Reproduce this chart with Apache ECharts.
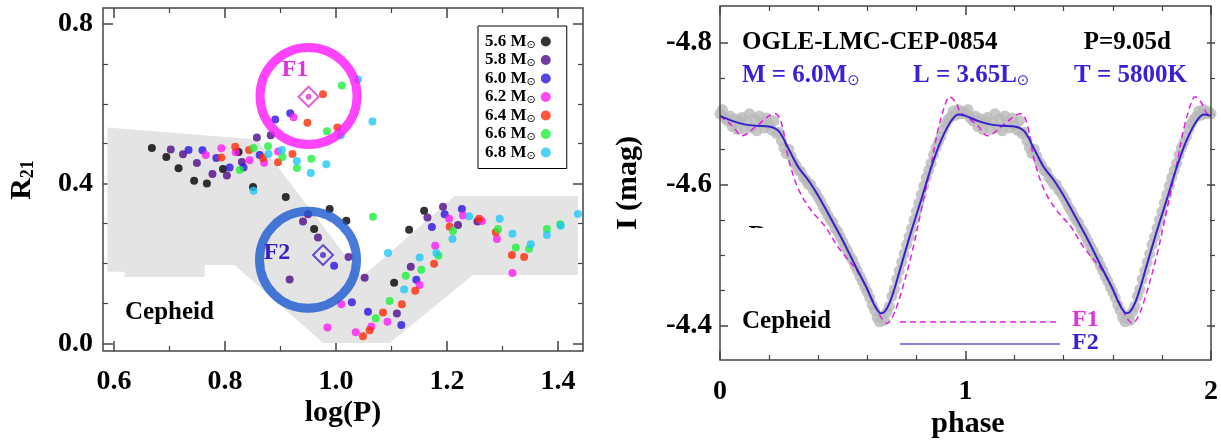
<!DOCTYPE html>
<html><head><meta charset="utf-8">
<script src="https://cdn.jsdelivr.net/npm/echarts@6/dist/echarts.min.js"></script>
<style>html,body{margin:0;padding:0;background:#fff}#c{width:1221px;height:441px}</style>
</head><body><div id="c"></div>
<script>
// ---------- Left panel: R21 vs log(P) ----------
const massNames = ['5.6', '5.8', '6.0', '6.2', '6.4', '6.6', '6.8'];
const massColors = ['#000000', '#4d0a8a', '#2a14e0', '#ff1cf5', '#ff2a0a', '#1ef03c', '#1ec8f8'];
const m56 = [[0.669,0.489],[0.695,0.466],[0.717,0.438],[0.745,0.407],[0.768,0.400],[0.797,0.436],[0.825,0.479],[0.851,0.391],[0.910,0.366],[0.989,0.336],[1.019,0.307],[0.961,0.286],[1.105,0.152],[1.132,0.284],[1.159,0.332]];
const m58 = [[0.703,0.485],[0.725,0.473],[0.750,0.451],[0.778,0.424],[0.804,0.420],[0.831,0.454],[0.858,0.515],[0.883,0.521],[0.950,0.323],[0.941,0.305],[0.968,0.265],[1.023,0.216],[0.917,0.160],[1.052,0.164],[1.110,0.075],[1.135,0.192],[1.165,0.315],[1.193,0.342],[1.220,0.296],[1.255,0.305]];
const m60 = [[0.735,0.484],[0.760,0.483],[0.785,0.464],[0.809,0.440],[0.834,0.440],[0.863,0.471],[0.891,0.560],[0.918,0.576],[0.997,0.194],[1.029,0.103],[1.058,0.079],[1.118,0.046],[1.145,0.159],[1.173,0.291],[1.196,0.323],[1.227,0.336]];
const m62 = [[0.766,0.471],[0.794,0.488],[0.820,0.478],[0.845,0.458],[0.871,0.452],[0.896,0.480],[0.924,0.566],[1.010,0.098],[0.985,0.040],[1.036,0.028],[1.064,0.042],[1.093,0.054],[1.151,0.146],[1.179,0.244],[1.204,0.312],[1.229,0.320],[1.263,0.306],[1.290,0.261],[1.318,0.176]];
const m64 = [[0.794,0.465],[0.819,0.492],[0.844,0.484],[0.869,0.464],[0.896,0.453],[0.922,0.474],[0.949,0.552],[0.977,0.623],[1.003,0.540],[1.049,0.018],[1.061,0.033],[1.085,0.077],[1.119,0.098],[1.143,0.132],[1.177,0.199],[1.205,0.292],[1.258,0.312],[1.288,0.278],[1.317,0.221],[1.339,0.216]];
const m66 = [[0.827,0.434],[0.852,0.489],[0.878,0.493],[0.904,0.466],[0.930,0.439],[0.956,0.462],[0.984,0.531],[1.011,0.645],[1.067,0.317],[1.072,0.063],[1.097,0.106],[1.126,0.169],[1.154,0.184],[1.185,0.219],[1.211,0.281],[1.292,0.286],[1.324,0.240],[1.348,0.237],[1.380,0.286],[1.404,0.298]];
const m68 = [[0.852,0.382],[0.879,0.474],[0.903,0.484],[0.930,0.456],[0.955,0.426],[0.983,0.448],[1.009,0.520],[1.066,0.555],[1.040,0.660],[1.094,0.226],[1.123,0.135],[1.151,0.215],[1.181,0.226],[1.210,0.261],[1.240,0.318],[1.295,0.312],[1.318,0.274],[1.351,0.248],[1.380,0.271],[1.405,0.294],[1.436,0.324]];
const massData = [m56, m58, m60, m62, m64, m66, m68];
// Cepheid instability region outline (logP, R21)
const cepRegion = [[0.589,0.540],[0.858,0.510],[1.047,0.166],[1.214,0.369],[1.436,0.369],[1.436,0.171],[1.247,0.171],[1.097,0.001],[0.977,0.001],[0.818,0.196],[0.764,0.196],[0.764,0.166],[0.620,0.166],[0.620,0.179],[0.589,0.179]];
const f1Circle = [0.951, 0.619];
const f1Model = [0.951, 0.617];
const f2Circle = [0.950, 0.209];
const f2Model = [0.977, 0.221];
const leftXTicks = [0.6, 1.4, 0.2];
const leftYTicks = [0.0, 0.8, 0.4];

// ---------- Right panel: light curve ----------
const obsPhase = [0.00,0.01,0.02,0.03,0.04,0.05,0.06,0.07,0.08,0.09,0.10,0.11,0.12,0.13,0.14,0.15,0.16,0.17,0.18,0.19,0.20,0.21,0.22,0.23,0.24,0.25,0.26,0.27,0.28,0.29,0.30,0.31,0.32,0.33,0.34,0.35,0.36,0.37,0.38,0.39,0.40,0.41,0.42,0.43,0.44,0.45,0.46,0.47,0.48,0.49,0.50,0.51,0.52,0.53,0.54,0.55,0.56,0.57,0.58,0.59,0.60,0.61,0.62,0.63,0.64,0.65,0.66,0.67,0.68,0.69,0.70,0.71,0.72,0.73,0.74,0.75,0.76,0.77,0.78,0.79,0.80,0.81,0.82,0.83,0.84,0.85,0.86,0.87,0.88,0.89,0.90,0.91,0.92,0.93,0.94,0.95,0.96,0.97,0.98,0.99];
const obsMag = [-4.700,-4.706,-4.694,-4.690,-4.697,-4.682,-4.693,-4.678,-4.690,-4.695,-4.678,-4.688,-4.700,-4.680,-4.693,-4.676,-4.697,-4.688,-4.680,-4.694,-4.684,-4.677,-4.690,-4.672,-4.674,-4.662,-4.652,-4.644,-4.650,-4.640,-4.632,-4.627,-4.620,-4.618,-4.610,-4.606,-4.600,-4.600,-4.592,-4.588,-4.582,-4.576,-4.568,-4.563,-4.556,-4.550,-4.546,-4.538,-4.533,-4.526,-4.519,-4.512,-4.506,-4.498,-4.493,-4.485,-4.478,-4.470,-4.463,-4.455,-4.448,-4.440,-4.430,-4.422,-4.412,-4.406,-4.414,-4.408,-4.420,-4.428,-4.442,-4.452,-4.466,-4.478,-4.490,-4.502,-4.515,-4.526,-4.538,-4.550,-4.562,-4.574,-4.586,-4.598,-4.610,-4.620,-4.630,-4.642,-4.652,-4.660,-4.668,-4.678,-4.686,-4.692,-4.696,-4.704,-4.698,-4.706,-4.700,-4.703];
const f2Phase = [0.00,0.05,0.10,0.15,0.20,0.24,0.28,0.32,0.36,0.40,0.45,0.50,0.55,0.60,0.62,0.64,0.655,0.67,0.69,0.71,0.74,0.78,0.82,0.86,0.90,0.94,0.97,1.00];
const f2Mag = [-4.697,-4.690,-4.685,-4.683,-4.682,-4.675,-4.650,-4.624,-4.606,-4.584,-4.553,-4.521,-4.486,-4.452,-4.436,-4.423,-4.418,-4.420,-4.432,-4.452,-4.488,-4.535,-4.579,-4.624,-4.662,-4.689,-4.699,-4.697];
const f1Phase = [0.00,0.05,0.09,0.15,0.20,0.225,0.25,0.28,0.32,0.37,0.43,0.48,0.56,0.62,0.66,0.68,0.70,0.73,0.78,0.82,0.86,0.89,0.92,0.935,0.96,0.98,1.00];
const f1Mag = [-4.697,-4.683,-4.669,-4.683,-4.697,-4.700,-4.687,-4.635,-4.593,-4.564,-4.540,-4.512,-4.477,-4.438,-4.410,-4.404,-4.411,-4.438,-4.501,-4.564,-4.628,-4.680,-4.716,-4.724,-4.716,-4.702,-4.697];
const rightYTicks = [-4.8, -4.4, 0.2];

// phase-folded data are plotted over two cycles
function twoCycles(ph, mg) {
  const out = [];
  for (let c = 0; c < 2; c++) ph.forEach((p, i) => { if (!(c === 1 && p === 0 && out.length)) out.push([p + c, mg[i]]); });
  return out;
}
function twoCyclesObs(ph, mg) {
  const out = [];
  for (let c = 0; c < 2; c++) ph.forEach((p, i) => out.push([p + c, mg[i]]));
  out.push([2, mg[0]]);
  return out;
}

const SERIF = "'Liberation Serif','Times New Roman',serif";
const FRAME = '#444';
const BLUE_TXT = '#3a1fd8';

function tickAxis(extra) {
  return Object.assign({
    type: 'value', splitLine: {show: false}, axisLine: {show: false},
    axisTick: {show: true, inside: true, length: 10, lineStyle: {color: FRAME, width: 1.5}},
    minorTick: {show: true, length: 5, lineStyle: {color: FRAME, width: 1.2}},
    axisLabel: {show: false}
  }, extra);
}
const labelStyle = {fontSize: 28, fontWeight: 'bold', fontFamily: SERIF, color: '#000'};

const series = [];
series.push({
  type: 'custom', xAxisIndex: 0, yAxisIndex: 0, data: cepRegion, silent: true, z: 1, clip: false,
  renderItem: (params, api) => {
    if (params.dataIndex !== 0) return;
    const pts = cepRegion.map(p => api.coord(p));
    return {type: 'polygon', shape: {points: pts}, style: {fill: '#e4e4e4'}};
  }
});
massNames.forEach((n, i) => {
  series.push({
    name: n, type: 'scatter', xAxisIndex: 0, yAxisIndex: 0, data: massData[i], symbol: 'circle',
    symbolSize: 8, itemStyle: {color: massColors[i]}, z: 3, silent: true
  });
});
series.push({type: 'scatter', xAxisIndex: 0, yAxisIndex: 0, data: [f1Circle], symbolSize: 97, z: 4, silent: true,
  itemStyle: {color: 'rgba(0,0,0,0)', borderColor: '#ff14ff', borderWidth: 9}});
series.push({type: 'scatter', xAxisIndex: 0, yAxisIndex: 0, data: [f2Circle], symbolSize: 97, z: 4, silent: true,
  itemStyle: {color: 'rgba(0,0,0,0)', borderColor: '#1a5ad0', borderWidth: 9}});
series.push({type: 'scatter', xAxisIndex: 0, yAxisIndex: 0, data: [f1Model], symbol: 'diamond', symbolSize: 20, z: 5, silent: true,
  itemStyle: {color: 'rgba(0,0,0,0)', borderColor: '#d63ad6', borderWidth: 2}});
series.push({type: 'scatter', xAxisIndex: 0, yAxisIndex: 0, data: [f1Model], symbolSize: 6, z: 5, silent: true, itemStyle: {color: '#d63ad6'}});
series.push({type: 'scatter', xAxisIndex: 0, yAxisIndex: 0, data: [f2Model], symbol: 'diamond', symbolSize: 20, z: 5, silent: true,
  itemStyle: {color: 'rgba(0,0,0,0)', borderColor: '#4a22c8', borderWidth: 2}});
series.push({type: 'scatter', xAxisIndex: 0, yAxisIndex: 0, data: [f2Model], symbolSize: 6, z: 5, silent: true, itemStyle: {color: '#4a22c8'}});

// right panel
series.push({type: 'scatter', xAxisIndex: 4, yAxisIndex: 4, data: twoCyclesObs(obsPhase, obsMag), symbolSize: 11, z: 2, silent: true,
  itemStyle: {color: '#b9b9b9'}});
series.push({type: 'line', xAxisIndex: 4, yAxisIndex: 4, data: twoCycles(f1Phase, f1Mag), smooth: 0.35, showSymbol: false, z: 3, silent: true,
  lineStyle: {color: '#e020e0', width: 1.5, type: [6, 4]}});
series.push({type: 'line', xAxisIndex: 4, yAxisIndex: 4, data: twoCycles(f2Phase, f2Mag), smooth: 0.3, showSymbol: false, z: 4, silent: true,
  lineStyle: {color: '#3322cc', width: 2}});

const option = {
  animation: false,
  backgroundColor: '#fff',
  grid: [
    {left: 103, top: 8, width: 480, height: 343, show: true, borderColor: FRAME, borderWidth: 1.5, backgroundColor: 'rgba(0,0,0,0)', z: 6},
    {left: 114, top: 8, width: 444, height: 343},
    {left: 103, top: 24, width: 480, height: 319.3},
    {left: 720, top: 6, width: 495, height: 354, show: true, borderColor: FRAME, borderWidth: 1.5, backgroundColor: 'rgba(0,0,0,0)', z: 6},
    {left: 720, top: 43, width: 495, height: 283}
  ],
  xAxis: [
    {type: 'value', gridIndex: 0, min: 0.581, max: 1.445, show: false},
    tickAxis({gridIndex: 1, position: 'bottom', min: leftXTicks[0], max: leftXTicks[1], interval: leftXTicks[2], minorTick: {show: true, splitNumber: 2, length: 5, lineStyle: {color: FRAME, width: 1.2}},
      axisLabel: Object.assign({show: true, margin: 17, formatter: v => v.toFixed(1)}, labelStyle)}),
    tickAxis({gridIndex: 1, position: 'top', min: leftXTicks[0], max: leftXTicks[1], interval: leftXTicks[2], minorTick: {show: true, splitNumber: 2, length: 5, lineStyle: {color: FRAME, width: 1.2}}}),
    {type: 'value', gridIndex: 2, min: 0, max: 1, show: false},
    tickAxis({gridIndex: 3, position: 'bottom', min: 0, max: 2, interval: 1, axisTick: {show: true, inside: true, length: 9, lineStyle: {color: FRAME, width: 1.5}}, minorTick: {show: true, splitNumber: 5, length: 5, lineStyle: {color: FRAME, width: 1.2}},
      axisLabel: Object.assign({show: true, margin: 18, formatter: v => String(Math.round(v))}, labelStyle)}),
    tickAxis({gridIndex: 3, position: 'top', min: 0, max: 2, interval: 1, axisTick: {show: true, inside: true, length: 9, lineStyle: {color: FRAME, width: 1.5}}, minorTick: {show: true, splitNumber: 5, length: 5, lineStyle: {color: FRAME, width: 1.2}}}),
    {type: 'value', gridIndex: 4, min: 0, max: 1, show: false}
  ],
  yAxis: [
    {type: 'value', gridIndex: 0, min: -0.019, max: 0.839, show: false},
    {type: 'value', gridIndex: 1, min: 0, max: 1, show: false},
    tickAxis({gridIndex: 2, position: 'left', min: leftYTicks[0], max: leftYTicks[1], interval: leftYTicks[2], minorTick: {show: true, splitNumber: 4, length: 5, lineStyle: {color: FRAME, width: 1.2}},
      axisLabel: Object.assign({show: true, margin: 10, formatter: v => v.toFixed(1)}, labelStyle)}),
    tickAxis({gridIndex: 2, position: 'right', min: leftYTicks[0], max: leftYTicks[1], interval: leftYTicks[2], minorTick: {show: true, splitNumber: 4, length: 5, lineStyle: {color: FRAME, width: 1.2}}}),
    {type: 'value', gridIndex: 3, min: -4.8523, max: -4.352, inverse: true, show: false},
    tickAxis({gridIndex: 4, position: 'left', min: rightYTicks[0], max: rightYTicks[1], interval: rightYTicks[2], inverse: true, axisTick: {show: true, inside: true, length: 8, lineStyle: {color: FRAME, width: 1.5}}, minorTick: {show: true, splitNumber: 4, length: 5, lineStyle: {color: FRAME, width: 1.2}},
      axisLabel: Object.assign({show: true, margin: 8, formatter: v => v.toFixed(1)}, labelStyle, {fontSize: 29})}),
    tickAxis({gridIndex: 4, position: 'right', min: rightYTicks[0], max: rightYTicks[1], interval: rightYTicks[2], inverse: true, axisTick: {show: true, inside: true, length: 8, lineStyle: {color: FRAME, width: 1.5}}, minorTick: {show: true, splitNumber: 4, length: 5, lineStyle: {color: FRAME, width: 1.2}}})
  ],
  legend: {
    data: massNames, orient: 'vertical', left: 478, top: 26, align: 'right', icon: 'circle',
    itemWidth: 10, itemHeight: 10, itemGap: 1, padding: [7, 16, 7, 7],
    borderColor: '#000', borderWidth: 1, backgroundColor: '#fff', selectedMode: false, z: 10,
    formatter: n => '{a|' + n + ' M}{s|⊙}',
    textStyle: {rich: {
      a: {fontSize: 17, fontWeight: 'bold', fontFamily: SERIF, color: '#000', lineHeight: 18},
      s: {fontSize: 11, fontFamily: "'DejaVu Sans',sans-serif", color: '#000', lineHeight: 11, verticalAlign: 'bottom'}
    }}
  },
  graphic: [
    {type: 'text', x: 22, y: 180, rotation: Math.PI / 2, z: 20, style: {text: '{r|R}{s|21}', align: 'center', verticalAlign: 'middle',
      rich: {r: {fontSize: 30, fontWeight: 'bold', fontFamily: SERIF, fill: '#000', lineHeight: 30},
             s: {fontSize: 18, fontWeight: 'bold', fontFamily: SERIF, fill: '#000', lineHeight: 16, verticalAlign: 'bottom'}}}},
    {type: 'text', x: 343, y: 413, z: 20, style: {text: 'log(P)', font: 'bold 30px ' + SERIF, fill: '#000', align: 'center', verticalAlign: 'middle'}},
    {type: 'text', x: 125, y: 313, z: 20, style: {text: 'Cepheid', font: 'bold 25px ' + SERIF, fill: '#000', align: 'left', verticalAlign: 'middle'}},
    {type: 'text', x: 295, y: 70, z: 20, style: {text: 'F1', font: 'bold 24px ' + SERIF, fill: '#e030e0', align: 'center', verticalAlign: 'middle'}},
    {type: 'text', x: 277, y: 253, z: 20, style: {text: 'F2', font: 'bold 24px ' + SERIF, fill: '#3a20c4', align: 'center', verticalAlign: 'middle'}},

    {type: 'text', x: 628, y: 183, rotation: Math.PI / 2, z: 20, style: {text: 'I (mag)', font: 'bold 30px ' + SERIF, fill: '#000', align: 'center', verticalAlign: 'middle'}},
    {type: 'text', x: 968, y: 424, z: 20, style: {text: 'phase', font: 'bold 30px ' + SERIF, fill: '#000', align: 'center', verticalAlign: 'middle'}},
    {type: 'text', x: 742, y: 43, z: 20, style: {text: 'OGLE-LMC-CEP-0854', font: 'bold 25px ' + SERIF, fill: '#000', align: 'left', verticalAlign: 'middle'}},
    {type: 'text', x: 1171, y: 43, z: 20, style: {text: 'P=9.05d', font: 'bold 25px ' + SERIF, fill: '#000', align: 'right', verticalAlign: 'middle'}},
    {type: 'text', x: 742, y: 76, z: 20, style: {text: '{b|M = 6.0M}{s|⊙}', align: 'left', verticalAlign: 'middle',
      rich: {b: {fontSize: 25, fontWeight: 'bold', fontFamily: SERIF, fill: BLUE_TXT, lineHeight: 26}, s: {fontSize: 15, fontFamily: "'DejaVu Sans',sans-serif", fill: BLUE_TXT, lineHeight: 14, verticalAlign: 'bottom'}}}},
    {type: 'text', x: 913, y: 76, z: 20, style: {text: '{b|L = 3.65L}{s|⊙}', align: 'left', verticalAlign: 'middle',
      rich: {b: {fontSize: 25, fontWeight: 'bold', fontFamily: SERIF, fill: BLUE_TXT, lineHeight: 26}, s: {fontSize: 15, fontFamily: "'DejaVu Sans',sans-serif", fill: BLUE_TXT, lineHeight: 14, verticalAlign: 'bottom'}}}},
    {type: 'text', x: 1074, y: 76, z: 20, style: {text: 'T = 5800K', font: 'bold 25px ' + SERIF, fill: BLUE_TXT, align: 'left', verticalAlign: 'middle'}},
    {type: 'text', x: 742, y: 322, z: 20, style: {text: 'Cepheid', font: 'bold 25px ' + SERIF, fill: '#000', align: 'left', verticalAlign: 'middle'}},
    {type: 'text', x: 1072, y: 320, z: 20, style: {text: 'F1', font: 'bold 24px ' + SERIF, fill: '#e030e0', align: 'left', verticalAlign: 'middle'}},
    {type: 'text', x: 1072, y: 343, z: 20, style: {text: 'F2', font: 'bold 24px ' + SERIF, fill: '#3a1fd8', align: 'left', verticalAlign: 'middle'}},
    {type: 'line', z: 20, shape: {x1: 900, y1: 322, x2: 1057, y2: 322}, style: {stroke: '#e020e0', lineWidth: 1.5, lineDash: [6, 4]}},
    {type: 'line', z: 20, shape: {x1: 900, y1: 344, x2: 1060, y2: 344}, style: {stroke: '#6a5acd', lineWidth: 1.5}},
    {type: 'text', x: 758, y: 236, z: 20, style: {text: 'D', font: 'bold 26px ' + SERIF, fill: '#000', align: 'center', verticalAlign: 'middle'}},
    {type: 'rect', z: 21, shape: {x: 740, y: 228, width: 40, height: 24}, style: {fill: '#fff'}}
  ],
  series: series
};
const chart = echarts.init(document.getElementById('c'), null, {renderer: 'canvas'});
chart.setOption(option);
</script>
</body></html>
